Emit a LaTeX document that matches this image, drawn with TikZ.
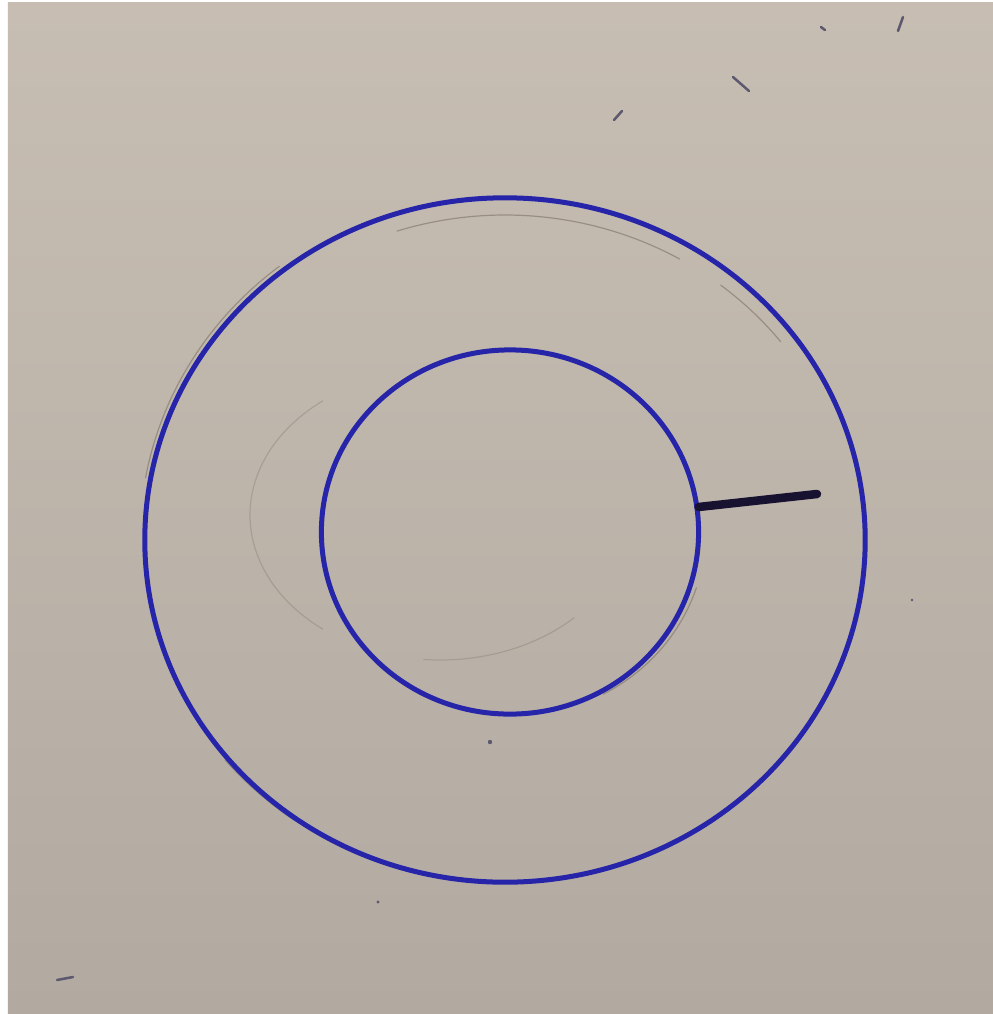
\documentclass[tikz,border=0pt]{standalone}
\usepackage{xcolor}
\usepackage{tikz}
\usetikzlibrary{shapes.geometric}
\definecolor{paper}{RGB}{196,186,175}
\definecolor{paperdark}{RGB}{178,170,161}
\definecolor{ink}{RGB}{38,36,168}
\definecolor{marker}{RGB}{22,18,48}
\definecolor{pencil}{RGB}{120,108,98}
\tikzset{
  % hand drawn rings
  ring/.style={ellipse,draw=ink,line width=0.05cm,inner sep=0pt,outer sep=0pt},
  % pencil guide lines
  guide/.style={draw=pencil,line width=0.012cm,opacity=0.55},
  faint/.style={guide,opacity=0.3},
  % the short stroke
  stroke/.style={draw=marker,line cap=round},
  speck/.style={draw=marker!70,line width=0.025cm,line cap=round},
}

\begin{document}
\begin{tikzpicture}[x=0.01cm,y=-0.01cm]
\useasboundingbox (0,0) rectangle (993,1014);
\fill[white] (0,0) rectangle (993,1014);
\shade[top color=paper!95!white,bottom color=paperdark] (8,2) rectangle (993,1014);
% pencil guides (angles: 90 is down, 270 is up)
\draw[guide] ({503+363*cos(190)},{538+345*sin(190)}) arc[x radius=363,y radius=345,start angle=190,end angle=232];
\draw[guide] ({503+363*cos(125)},{538+345*sin(125)}) arc[x radius=363,y radius=345,start angle=125,end angle=140];
\draw[guide] ({505+350*cos(252)},{545+330*sin(252)}) arc[x radius=350,y radius=330,start angle=252,end angle=300];
\draw[guide] ({505+350*cos(308)},{545+330*sin(308)}) arc[x radius=350,y radius=330,start angle=308,end angle=322];
\draw[faint] ({440+190*cos(128)},{515+145*sin(128)}) arc[x radius=190,y radius=145,start angle=128,end angle=232];
\draw[faint] ({440+190*cos(45)},{515+145*sin(45)}) arc[x radius=190,y radius=145,start angle=45,end angle=95];
\draw[guide] ({512+194*cos(112)},{530+186*sin(112)}) arc[x radius=194,y radius=186,start angle=112,end angle=135];
\draw[guide] ({512+194*cos(18)},{530+186*sin(18)}) arc[x radius=194,y radius=186,start angle=18,end angle=62];
% rings
\node[ring,minimum width=7.20cm,minimum height=6.84cm] (outer) at (505,540) {};
\node[ring,minimum width=3.77cm,minimum height=3.64cm] (inner) at (510,532) {};
% black stroke
\coordinate (tip) at (817,494);
\draw[stroke,line width=0.085cm] ([yshift=0.25cm]inner.east) -- (tip);
% specks
\draw[speck] (733,77) -- (749,91);
\draw[speck] (614,120) -- (622,111);
\draw[speck] (898,31) -- (903,17);
\draw[speck] (57,980) -- (73,977);
\draw[speck] (821,27) -- (825,30);
\fill[marker!70] (490,742) circle (2.2);
\fill[marker!70] (378,902) circle (1.6);
\fill[marker!70] (912,600) circle (1.4);
\end{tikzpicture}
\end{document}
